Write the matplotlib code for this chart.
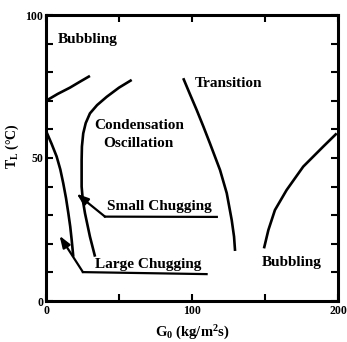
import matplotlib
matplotlib.use("Agg")
import matplotlib.pyplot as plt
from matplotlib.ticker import FixedLocator

plt.rcParams['font.family'] = ['Liberation Serif', 'DejaVu Serif']
plt.rcParams['font.weight'] = 'bold'
plt.rcParams['mathtext.fontset'] = 'custom'
plt.rcParams['mathtext.rm'] = 'Liberation Serif:bold'
plt.rcParams['mathtext.it'] = 'Liberation Serif:bold'
plt.rcParams['mathtext.bf'] = 'Liberation Serif:bold'

# --- data (G0 in kg/m2s, TL in degC) ---
bub_top_x = [0, 8, 16.4, 23, 30.1]
bub_top_y = [70.0, 72.4, 74.6, 76.6, 78.7]

co_x = [58.7, 50, 41.6, 35, 30.1, 27.2, 25.5, 24.6, 24.4, 24.4, 25.2, 26.7, 30.1, 33.6]
co_y = [77.3, 74.6, 71.4, 68.5, 65.6, 62.2, 58.6, 54.0, 49.3, 40.0, 35.3, 30.7, 22.5, 15.5]

lc_curve_x = [0, 3.8, 7.3, 9.8, 11.8, 13.7, 15.3, 16.6, 17.6, 18.7]
lc_curve_y = [59.5, 55.0, 50.5, 46.0, 41.2, 36.0, 30.7, 26.0, 21.3, 15.5]

tr_x = [94.0, 98.6, 103.2, 107.8, 112.3, 119.2, 123.8, 127.2, 128.8, 129.5]
tr_y = [77.9, 72.3, 66.8, 61.0, 55.1, 45.8, 37.7, 28.3, 22.5, 17.5]

bub_r_x = [199.1, 189.9, 176.2, 164.8, 156.8, 152.3, 149.3]
bub_r_y = [58.6, 54.0, 47.0, 38.8, 31.8, 24.8, 18.4]

# leader lines: arrow tip, corner, end of underline
sc_tip = (21.0, 37.5); sc_corner = (40.4, 29.5); sc_end = (117, 29.4)
lc_tip = (9.3, 22.8); lc_corner = (25.3, 10.1); lc_end = (110, 9.4)

x_major = [0, 100, 200]
x_minor = [50, 150]
y_major = [0, 50, 100]
y_minor = [10, 20, 30, 40, 60, 70, 80, 90]

fig = plt.figure(figsize=(3.47, 3.42), dpi=100)
ax = fig.add_axes([46/347, 41/342, 292/347, 286/342])
ax.set_xlim(0, 200)
ax.set_ylim(0, 100)

lw = 1.9
for xs, ys in [(bub_top_x, bub_top_y), (co_x, co_y), (lc_curve_x, lc_curve_y),
               (tr_x, tr_y), (bub_r_x, bub_r_y)]:
    ax.plot(xs, ys, color='black', lw=lw, solid_capstyle='butt',
            solid_joinstyle='round')

for tip, corner, end in [(sc_tip, sc_corner, sc_end), (lc_tip, lc_corner, lc_end)]:
    ax.plot([corner[0], end[0]], [corner[1], end[1]], color='black', lw=1.6)
    ax.annotate('', xy=tip, xytext=corner,
                arrowprops=dict(arrowstyle='-|>,head_length=0.7,head_width=0.25',
                                color='black', lw=1.6, shrinkA=0, shrinkB=0))

fs = 11
ax.text(8, 91.3, 'Bubbling', fontsize=fs, fontweight='bold', ha='left', va='center')
ax.text(63.5, 61.5, 'Condensation', fontsize=fs, fontweight='bold', ha='center', va='center')
ax.text(63.5, 55.2, 'Oscillation', fontsize=fs, fontweight='bold', ha='center', va='center')
ax.text(125, 76.2, 'Transition', fontsize=fs, fontweight='bold', ha='center', va='center')
ax.text(41.5, 32.9, 'Small Chugging', fontsize=fs, fontweight='bold', ha='left', va='center')
ax.text(33.6, 12.6, 'Large Chugging', fontsize=fs, fontweight='bold', ha='left', va='center')
ax.text(148, 13.6, 'Bubbling', fontsize=fs, fontweight='bold', ha='left', va='center')

for s in ax.spines.values():
    s.set_linewidth(2.2)

ax.xaxis.set_major_locator(FixedLocator(x_major))
ax.xaxis.set_minor_locator(FixedLocator(x_minor))
ax.yaxis.set_major_locator(FixedLocator(y_major))
ax.yaxis.set_minor_locator(FixedLocator(y_minor))
ax.set_xticklabels([str(v) for v in x_major], fontsize=8.5, fontweight='bold')
ax.set_yticklabels([str(v) for v in y_major], fontsize=8.5, fontweight='bold')
ax.tick_params(which='both', direction='in', width=1.5, top=True, right=True)
ax.tick_params(axis='x', which='major', length=5, pad=3)
ax.tick_params(axis='y', which='major', length=5, pad=2)
ax.tick_params(which='minor', length=5)

ax.set_xlabel('G$_0$ (kg/m$^2$s)', fontsize=10.5, fontweight='bold', labelpad=5)
ax.set_ylabel('T$_L$ (°C)', fontsize=10, fontweight='bold')
ax.yaxis.set_label_coords(-0.085, 0.54)

fig.savefig('out.png', dpi=100)
